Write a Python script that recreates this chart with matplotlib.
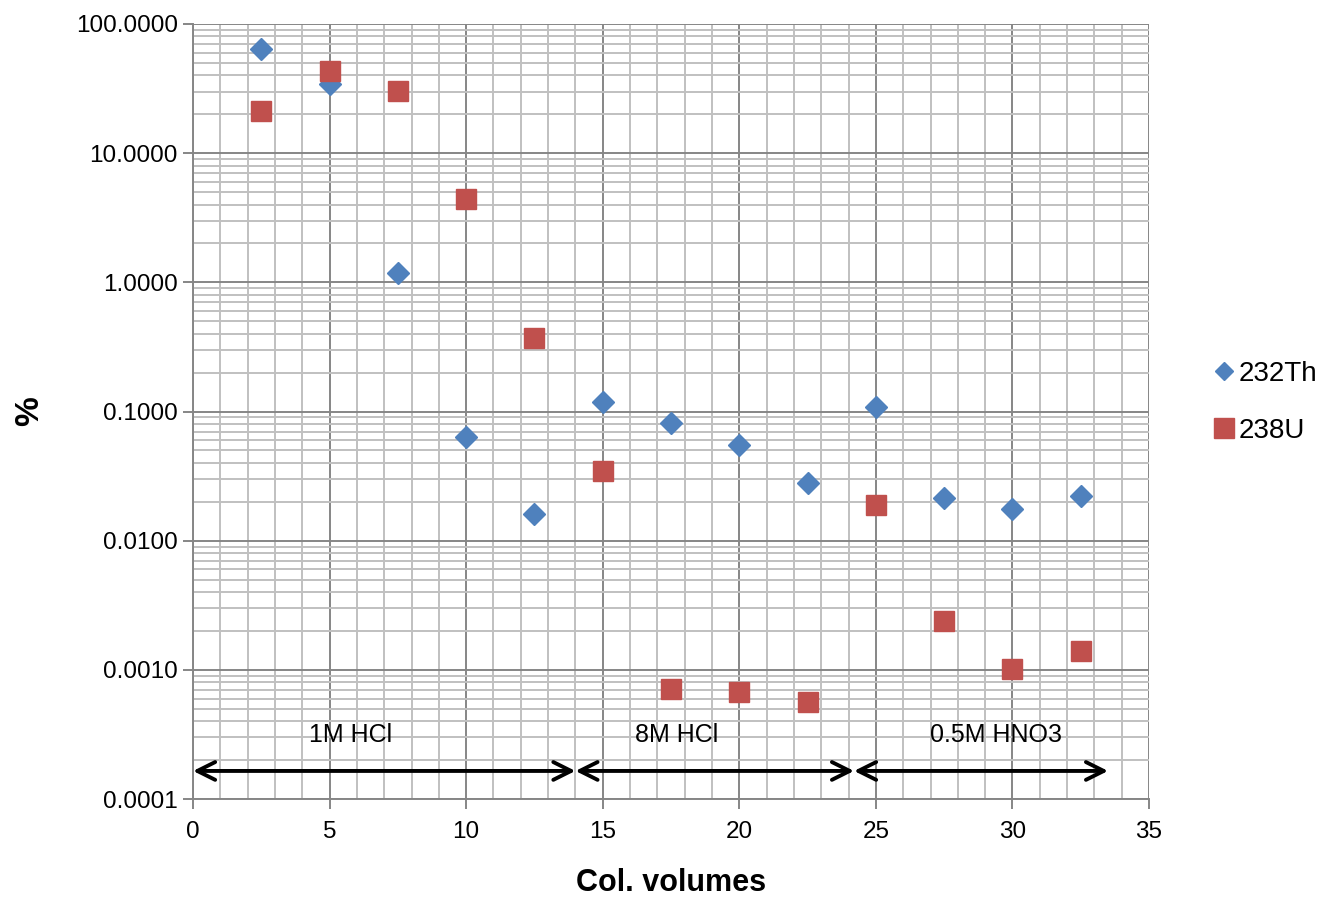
import numpy as np
import matplotlib
matplotlib.use("Agg")
import matplotlib.pyplot as plt
from matplotlib.ticker import LogLocator, NullFormatter, FuncFormatter, MultipleLocator
from matplotlib.lines import Line2D

plt.rcParams['font.family'] = ['Liberation Sans', 'DejaVu Sans']

# column volumes
col_volumes = [2.5, 5, 7.5, 10, 12.5, 15, 17.5, 20, 22.5, 25, 27.5, 30, 32.5]

# percent eluted
th232 = [64, 34, 1.18, 0.0636, 0.0161, 0.119, 0.0817, 0.055, 0.028, 0.1086, 0.0214, 0.0176, 0.0222]
u238 = [21.2, 43.3, 30.3, 4.42, 0.371, 0.0347, 0.000713, 0.000676, 0.000565, 0.0189, 0.00239, 0.00102, 0.0014]

# eluent regions
eluents = ["1M HCl", "8M HCl", "0.5M HNO3"]
region_start = [0, 14.0, 24.2]
region_end = [14.0, 24.2, 33.5]
label_x = [5.75, 17.7, 29.4]

fig = plt.figure(figsize=(13.35, 9.08), dpi=100)
ax = fig.add_axes([0.1446, 0.12, 0.7161, 0.8536])

ax.set_yscale('log')
ax.set_xlim(0, 35)
ax.set_ylim(0.0001, 100)

ax.xaxis.set_major_locator(MultipleLocator(5))
ax.xaxis.set_minor_locator(MultipleLocator(1))
ax.xaxis.set_minor_formatter(NullFormatter())
ax.yaxis.set_major_locator(LogLocator(base=10, numticks=10))
ax.yaxis.set_minor_locator(LogLocator(base=10, subs=np.arange(2, 10), numticks=20))
ax.yaxis.set_minor_formatter(NullFormatter())
ax.yaxis.set_major_formatter(FuncFormatter(lambda v, p: "%.4f" % v))

ax.grid(which='major', color='#868686', lw=1.4)
ax.grid(which='minor', color='#c0c0c0', lw=1.4)
ax.set_axisbelow(True)

for s in ['top', 'right']:
    ax.spines[s].set_visible(False)
for s in ['left', 'bottom']:
    ax.spines[s].set_color('#868686')
    ax.spines[s].set_linewidth(1.4)

ax.tick_params(which='major', length=7, color='#868686', width=1.4, labelsize=17.5, pad=4)
ax.tick_params(which='minor', length=0)
ax.tick_params(axis='x', pad=9)

ax.plot(col_volumes, th232, linestyle='none', marker='D', markersize=11, color='#4f81bd', label='232Th')
ax.plot(col_volumes, u238, linestyle='none', marker='s', markersize=15, color='#c0504d', label='238U')

arrow_y = 0.000165
for name, x0, x1, xt in zip(eluents, region_start, region_end, label_x):
    ax.annotate("", xy=(x0, arrow_y), xytext=(x1, arrow_y),
                arrowprops=dict(arrowstyle='<->', color='black', lw=2.8, mutation_scale=32,
                                shrinkA=0, shrinkB=0))
    ax.text(xt, 0.000314, name, ha='center', va='center', fontsize=18)

ax.set_xlabel("Col. volumes", fontsize=22, fontweight='bold', labelpad=18)
ax.set_ylabel("%", fontsize=24, fontweight='bold', labelpad=22)

handles = [Line2D([], [], linestyle='none', marker='D', markersize=9.5, color='#4f81bd'),
           Line2D([], [], linestyle='none', marker='s', markersize=14, color='#c0504d')]
fig.legend(handles, ['232Th', '238U'], loc='center left', bbox_to_anchor=(0.9, 0.557),
           frameon=False, fontsize=20, handlelength=0.6, handletextpad=0.25, labelspacing=1.1,
           borderpad=0)

fig.savefig("out.png", dpi=100)
